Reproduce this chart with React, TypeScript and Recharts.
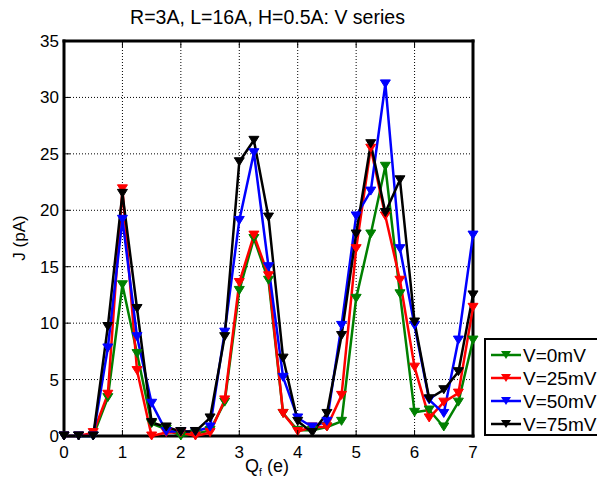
import React from 'react';
import { LineChart, Line, XAxis, YAxis, CartesianGrid } from 'recharts';

const Q = [0, 0.25, 0.5, 0.75, 1, 1.25, 1.5, 1.75, 2, 2.25, 2.5, 2.75, 3, 3.25, 3.5, 3.75, 4, 4.25, 4.5, 4.75, 5, 5.25, 5.5, 5.75, 6, 6.25, 6.5, 6.75, 7];
const V0 = [0, 0, 0, 3.4, 13.4, 7.3, 1.1, 0.6, 0, 0.2, 0.5, 3.0, 12.9, 17.5, 13.8, 2.0, 0.5, 0.5, 0.8, 1.3, 12.2, 17.9, 23.9, 12.6, 2.1, 2.3, 0.8, 3.0, 8.5];
const V25 = [0, 0, 0.3, 3.7, 21.9, 5.8, 0, 0.3, 0.3, 0, 0.3, 3.2, 13.6, 17.8, 14.2, 2.0, 0.4, 0.8, 0.8, 3.6, 16.6, 25.5, 19.5, 13.8, 6.1, 1.6, 3.0, 3.8, 11.4];
const V50 = [0, 0, 0, 7.8, 19.2, 8.8, 2.9, 0.4, 0.4, 0.4, 0.8, 9.2, 19.1, 25.1, 15.0, 5.2, 1.6, 0.8, 1.3, 9.8, 19.5, 21.7, 31.2, 16.6, 9.8, 3.2, 2.0, 8.5, 17.8];
const V75 = [0, 0, 0, 9.7, 21.5, 11.3, 1.2, 0.8, 0.4, 0.4, 1.6, 8.8, 24.3, 26.2, 19.4, 6.9, 1.3, 0.3, 2.0, 8.9, 17.9, 25.9, 19.8, 22.7, 10.1, 3.3, 4.1, 5.7, 12.5];

const X_TICKS = [0, 1, 2, 3, 4, 5, 6, 7];
const Y_TICKS = [0, 5, 10, 15, 20, 25, 30, 35];
const X_DOMAIN = [0, 7];
const Y_DOMAIN = [0, 35];

const SERIES = [
  { key: 'v0', name: 'V=0mV', color: '#008000', values: V0 },
  { key: 'v25', name: 'V=25mV', color: '#ff0000', values: V25 },
  { key: 'v50', name: 'V=50mV', color: '#0000ff', values: V50 },
  { key: 'v75', name: 'V=75mV', color: '#000000', values: V75 },
];

const TITLE = 'R=3A, L=16A, H=0.5A: V series';

const data = Q.map((q, i) => {
  const row: any = { q };
  SERIES.forEach((s) => { row[s.key] = s.values[i]; });
  return row;
});

const FONT = 'Liberation Sans, Arial, sans-serif';
const TICK_LEN = 6;
const FRAME_COLOR = '#010101';

const makeTri = (color: string) => (props: any) => {
  const { cx, cy, index } = props;
  if (cx == null || cy == null) return <g key={index} />;
  return (
    <path
      key={index}
      d={`M${cx - 5},${cy - 4} L${cx + 5},${cy - 4} L${cx},${cy + 4} Z`}
      fill={color}
      stroke={color}
      strokeWidth={1}
    />
  );
};

const XTickBottom = (props: any) => {
  const { x, y, payload } = props;
  return (
    <g>
      <line x1={x} y1={y} x2={x} y2={y - TICK_LEN} stroke="#000" strokeWidth={1} />
      <text x={x} y={y + 22} textAnchor="middle" fontSize={17} fontFamily={FONT} fill="#000">{payload.value}</text>
    </g>
  );
};

const XTickTop = (props: any) => {
  const { x, y } = props;
  return <line x1={x} y1={y} x2={x} y2={y + TICK_LEN} stroke="#000" strokeWidth={1} />;
};

const YTickLeft = (props: any) => {
  const { x, y, payload } = props;
  return (
    <g>
      <line x1={x} y1={y} x2={x + TICK_LEN} y2={y} stroke="#000" strokeWidth={1} />
      <text x={x - 5} y={y + 6} textAnchor="end" fontSize={17} fontFamily={FONT} fill="#000">{payload.value}</text>
    </g>
  );
};

const YTickRight = (props: any) => {
  const { x, y } = props;
  return <line x1={x} y1={y} x2={x - TICK_LEN} y2={y} stroke="#000" strokeWidth={1} />;
};

const LegendBox = () => (
  <div
    style={{
      position: 'absolute',
      left: 484,
      top: 338,
      width: 140,
      height: 94,
      border: '2px solid #000',
      background: '#fff',
      fontFamily: FONT,
      fontSize: 19,
      color: '#000',
    }}
  >
    {SERIES.map((s, i) => (
      <div key={s.key} style={{ position: 'absolute', left: 0, top: 5 + i * 23, height: 22, display: 'flex', alignItems: 'center', whiteSpace: 'nowrap' }}>
        <svg width={34} height={12} style={{ marginLeft: 3 }}>
          <line x1={2} y1={5} x2={32} y2={5} stroke={s.color} strokeWidth={2.5} />
          <path d="M12,1 L22,1 L17,9 Z" fill={s.color} />
        </svg>
        <span>{s.name}</span>
      </div>
    ))}
  </div>
);

export default function App() {
  return (
    <div style={{ position: 'absolute', left: 0, top: 0, width: 597, height: 479, overflow: 'hidden', background: '#fff', fontFamily: FONT }}>
      <style>{`line[stroke="${FRAME_COLOR}"] { stroke-width: 3px !important; stroke-dasharray: none !important; stroke-linecap: square; }`}</style>
      <LineChart width={597} height={479} data={data} margin={{ top: 41, right: 124, bottom: 3, left: 14 }}>
        <CartesianGrid stroke="#000" strokeDasharray="1 2" />
        <CartesianGrid
          stroke={FRAME_COLOR}
          strokeWidth={3}
          horizontalValues={Y_DOMAIN}
          verticalValues={X_DOMAIN}
        />
        <XAxis
          dataKey="q"
          type="number"
          domain={X_DOMAIN}
          ticks={X_TICKS}
          height={40}
          tickLine={false}
          axisLine={false}
          tickSize={0}
          tickMargin={0}
          tick={XTickBottom}
        />
        <XAxis
          xAxisId="top"
          dataKey="q"
          type="number"
          orientation="top"
          mirror
          domain={X_DOMAIN}
          ticks={X_TICKS}
          tickLine={false}
          axisLine={false}
          tickSize={0}
          tickMargin={0}
          tick={XTickTop}
        />
        <YAxis
          type="number"
          domain={Y_DOMAIN}
          ticks={Y_TICKS}
          width={50}
          tickLine={false}
          axisLine={false}
          tickSize={0}
          tickMargin={0}
          tick={YTickLeft}
        />
        <YAxis
          yAxisId="right"
          type="number"
          orientation="right"
          mirror
          domain={Y_DOMAIN}
          ticks={Y_TICKS}
          tickLine={false}
          axisLine={false}
          tickSize={0}
          tickMargin={0}
          tick={YTickRight}
        />
        {SERIES.map((s) => (
          <Line
            key={s.key}
            type="linear"
            dataKey={s.key}
            name={s.name}
            stroke={s.color}
            strokeWidth={2.5}
            dot={makeTri(s.color)}
            activeDot={false}
            isAnimationActive={false}
          />
        ))}
      </LineChart>
      <div style={{ position: 'absolute', left: 0, width: 535, top: 6, textAlign: 'center', fontSize: 19.5, color: '#000' }}>{TITLE}</div>
      <div style={{ position: 'absolute', left: 20, top: 238, transform: 'translate(-50%, -50%) rotate(-90deg)', fontSize: 17, whiteSpace: 'nowrap', color: '#000' }}>J (pA)</div>
      <div style={{ position: 'absolute', left: 267, top: 467, transform: 'translate(-50%, -50%)', fontSize: 18, whiteSpace: 'nowrap', color: '#000' }}>
        Q<sub style={{ fontSize: 10 }}>f</sub> (e)
      </div>
      <LegendBox />
    </div>
  );
}
